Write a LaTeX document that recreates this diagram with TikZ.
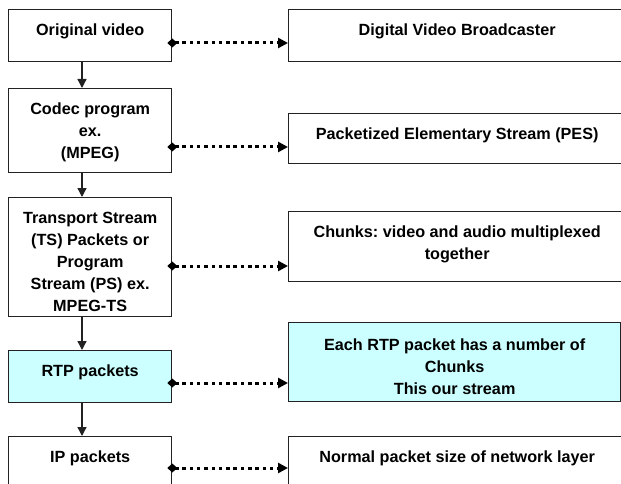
\documentclass[tikz,border=0pt]{standalone}
\usepackage{fontspec}
\setmainfont{Liberation Sans}
\usetikzlibrary{arrows.meta}
\definecolor{lightcyan}{HTML}{CCFFFF}
\definecolor{edge}{HTML}{222222}
\frenchspacing
\newcommand{\bx}[3]{\parbox[c][#2][t]{#1}{\centering\vspace*{10pt}\strut #3}}
\begin{document}
\begin{tikzpicture}[x=1pt,y=-1pt,
  box/.style={draw=edge, line width=1.3pt, inner sep=0pt, anchor=north west, fill=white,
    font=\bfseries\fontsize{16.2}{22}\selectfont},
  cyanbox/.style={box, fill=lightcyan},
  flow/.style={draw=edge, line width=1.3pt, arrows={-Triangle[length=9pt,width=9pt]}},
  link/.style={line width=3pt, dash pattern=on 3.5pt off 3.8pt,
    arrows={Diamond[length=10pt,width=9pt]-Triangle[length=10pt,width=10pt]}, shorten <=-5pt}]
\useasboundingbox (0,0) rectangle (621,484);
\clip (0,0) rectangle (621,484);
% left column
\node[box] (L1) at (8,9) {\bx{163pt}{52pt}{Original video}};
\node[box] (L2) at (8,88) {\bx{163pt}{84pt}{Codec program\\ex.\\(MPEG)}};
\node[box] (L3) at (8,197) {\bx{163pt}{119pt}{Transport Stream\\(TS) Packets or\\Program\\Stream (PS) ex.\\MPEG-TS}};
\node[cyanbox] (L4) at (8,350) {\bx{163pt}{52pt}{RTP packets}};
\node[box] (L5) at (8,436) {\bx{163pt}{70pt}{IP packets}};
% right column
\node[box] (R1) at (288,9) {\bx{337pt}{52pt}{Digital Video Broadcaster}};
\node[box] (R2) at (288,113) {\bx{337pt}{50pt}{Packetized Elementary Stream (PES)}};
\node[box] (R3) at (288,211) {\bx{337pt}{70pt}{Chunks: video and audio multiplexed\\together}};
\node[cyanbox] (R4) at (288,322) {\parbox[c][79pt][t]{332pt}{\centering\vspace*{12pt}\strut Each RTP packet has a number of\\Chunks\\This our stream}};
\node[box] (R5) at (288,436) {\bx{337pt}{70pt}{Normal packet size of network layer}};
% vertical flow arrows
\coordinate (ax) at (82,0);
\draw[flow] (L1.south -| ax) -- (L2.north -| ax);
\draw[flow] (L2.south -| ax) -- (L3.north -| ax);
\draw[flow] (L3.south -| ax) -- (L4.north -| ax);
\draw[flow] (L4.south -| ax) -- (L5.north -| ax);
% dotted links
\coordinate (y1) at (0,43);
\coordinate (y2) at (0,147);
\coordinate (y3) at (0,266);
\coordinate (y4) at (0,383);
\coordinate (y5) at (0,468);
\draw[link] (L1.east |- y1) -- (R1.west |- y1);
\draw[link] (L2.east |- y2) -- (R2.west |- y2);
\draw[link] (L3.east |- y3) -- (R3.west |- y3);
\draw[link] (L4.east |- y4) -- (R4.west |- y4);
\draw[link] (L5.east |- y5) -- (R5.west |- y5);
\end{tikzpicture}
\end{document}
